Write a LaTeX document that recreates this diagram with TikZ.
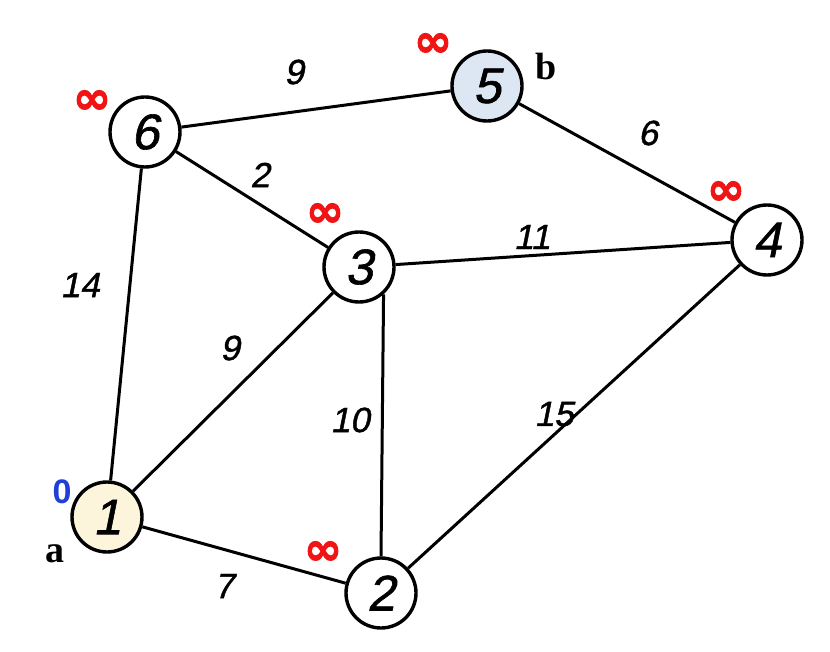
\documentclass[tikz,border=0pt]{standalone}
\usepackage{fontspec}
\setmainfont{Liberation Sans}
\newfontfamily\symfont[FakeBold=2]{DejaVu Sans}
\newfontfamily\serfont{Liberation Serif}
\newfontfamily\handfont[FakeBold=1.2,FakeSlant=0.2]{Liberation Sans}
\definecolor{nodeyellow}{HTML}{FCF5DC}
\definecolor{nodeblue}{HTML}{DDE7F4}
\definecolor{infred}{HTML}{F01414}
\definecolor{zeroblue}{HTML}{1F3FD8}
\tikzset{
  vert/.style={circle, draw=black, line width=3.4pt, minimum size=70pt, inner sep=0pt,
    font=\handfont\fontsize{50}{50}\selectfont, fill=white},
  edge/.style={line width=3pt, black},
  wt/.style={font=\handfont\fontsize{35}{35}\selectfont, inner sep=0pt},
  inf/.style={font=\symfont\bfseries\fontsize{46}{46}\selectfont, text=infred, inner sep=0pt},
  lbl/.style={font=\serfont\bfseries\fontsize{38}{38}\selectfont, inner sep=0pt}
}
\begin{document}
\begin{tikzpicture}[x=1pt,y=-1pt]
\useasboundingbox[fill=white] (0,0) rectangle (830,652);
\node[vert, fill=nodeyellow] (n1) at (107,517) {1};
\node[vert] (n2) at (381,593) {2};
\node[vert] (n3) at (359,267) {3};
\node[vert] (n4) at (767,240) {4};
\node[vert, fill=nodeblue] (n5) at (487,86) {5};
\node[vert] (n6) at (145,132) {6};
\draw[edge] (n6) -- (n5);
\draw[edge] (n5) -- (n4);
\draw[edge] (n6) -- (n3);
\draw[edge] (n6) -- (n1);
\draw[edge] (n3) -- (n4);
\draw[edge] (n1) -- (n3);
\draw[edge] (n1) -- (n2);
\draw[edge] (n2.north) -- (n3.-48);
\draw[edge] (n2) -- (n4);
\node[wt] (w65) at (294,72) {9};
\node[wt] (w54) at (648,133) {6};
\node[wt] (w63) at (260,175) {2};
\node[wt] (w34) at (532,237) {11};
\node[wt] (w61) at (80,285) {14};
\node[wt] (w13) at (230,348) {9};
\node[wt] (w32) at (350,420) {10};
\node[wt] (w24) at (554,414) {15};
\node[wt] (w12) at (224,586) {7};
\node[inf] (i6) at (92,102) {∞};
\node[inf] (i5) at (433,45) {∞};
\node[inf] (i3) at (325,215) {∞};
\node[inf] (i4) at (726,193) {∞};
\node[inf] (i2) at (323,553) {∞};
\node[font=\bfseries\fontsize{34}{34}\selectfont, text=zeroblue, inner sep=0pt] (z1) at (62,492) {0};
\node[lbl] (la) at (55,554) {a};
\node[lbl] (lb) at (546,67) {b};
\end{tikzpicture}
\end{document}
